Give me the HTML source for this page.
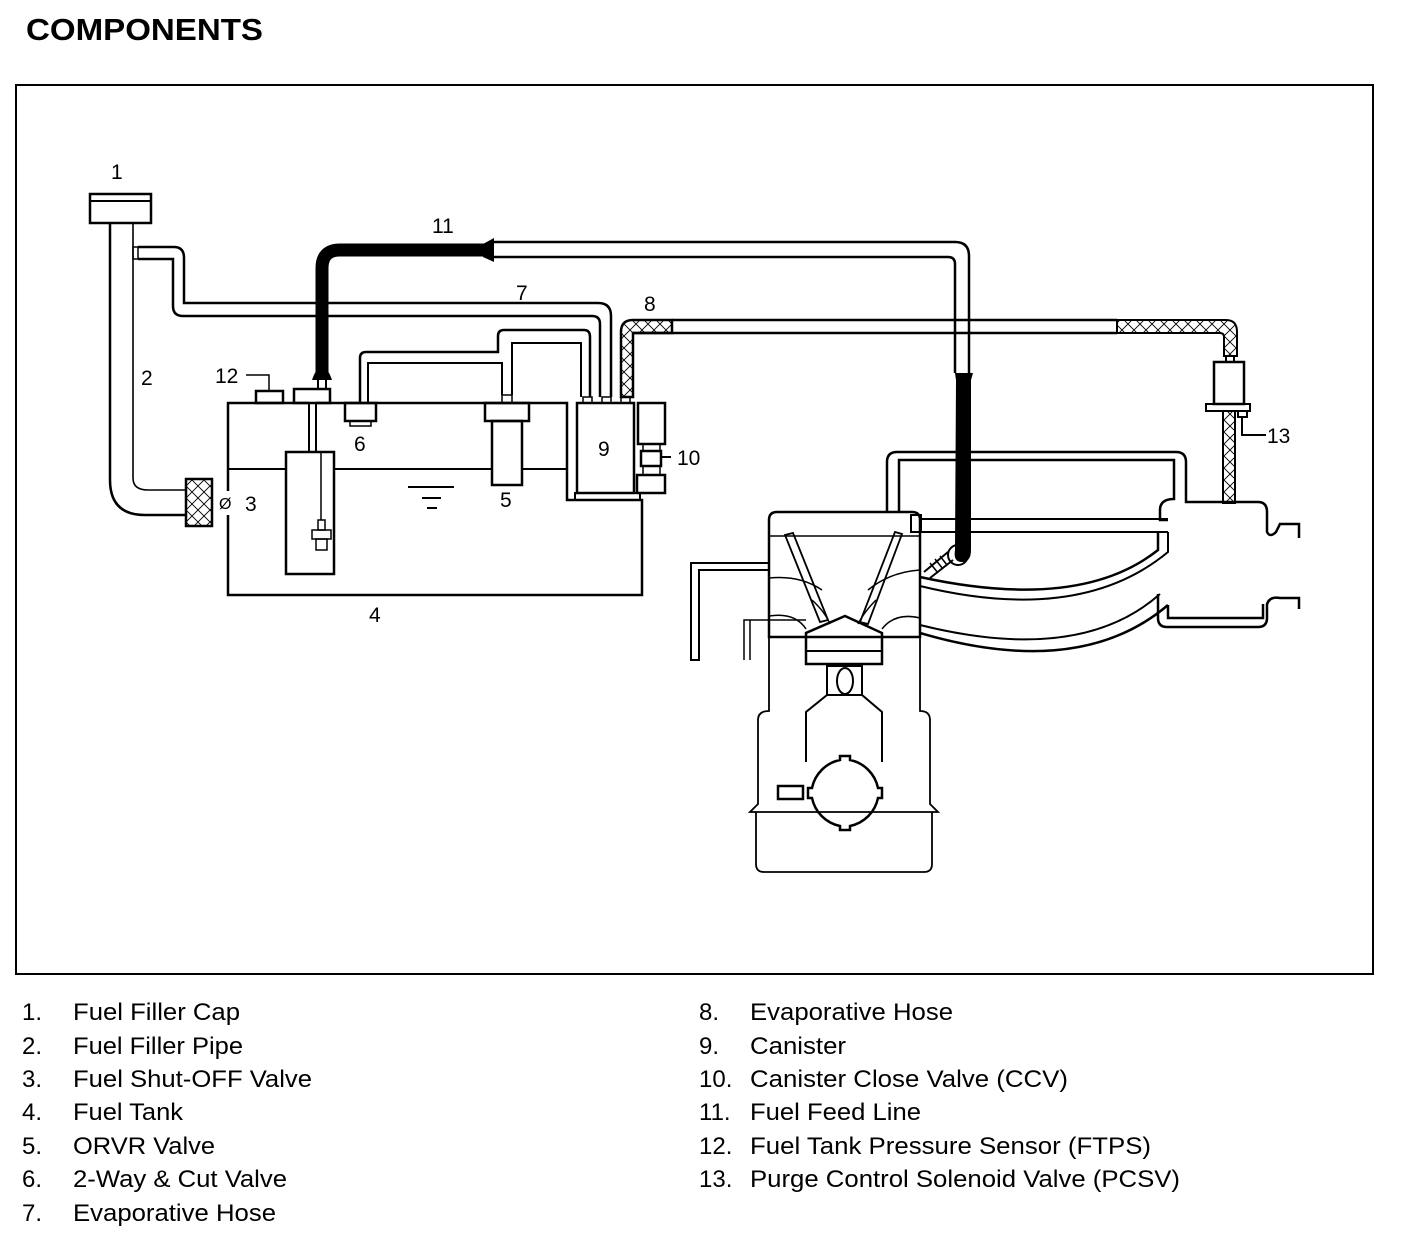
<!DOCTYPE html>
<html><head><meta charset="utf-8"><style>
html,body{margin:0;padding:0;background:#fff;}
svg{display:block;}
text{font-family:"Liberation Sans",Arial,sans-serif;fill:#000;}
</style></head><body>
<svg width="1408" height="1234" viewBox="0 0 1408 1234" xmlns="http://www.w3.org/2000/svg">
<defs>
<pattern id="hx" width="12" height="12" patternUnits="userSpaceOnUse">
<rect width="12" height="12" fill="#fff"/>
<path d="M0,0L12,12M12,0L0,12" stroke="#000" stroke-width="0.9"/>
</pattern>
</defs>
<text x="26" y="40" font-size="31" font-weight="bold" textLength="237" lengthAdjust="spacingAndGlyphs">COMPONENTS</text>
<rect x="16" y="85" width="1357" height="889" fill="none" stroke="#000" stroke-width="2"/>

<g fill="none" stroke="#000" stroke-width="2.5">
<rect x="90" y="194" width="61" height="29"/>
<line x1="90" y1="201" x2="151" y2="201" stroke-width="2"/>
<path d="M110,223 V480 Q110,515 145,515 H186"/>
<path d="M133,223 V478 Q133,490 148,490 H186" stroke-width="1.6"/>
<rect x="186" y="479" width="26" height="47" fill="url(#hx)"/>
<rect x="133" y="247" width="5" height="12" stroke-width="1.5"/>
<path d="M138,247 H174 Q184,247 184,258 V303 H598 Q611,303 611,316 V397"/>
<path d="M138,259 H173 V306 Q173,316 183,316 H592 Q600,316 600,324 V397"/>
<path d="M228,491 V403 H309 M316,403 H567 V500 H642 V595 H228 V515"/>
<path d="M228,469 H286 M334,469 H492 M522,469 H567" stroke-width="2"/>
<path d="M408,487 H454 M422,498 H441 M427,508 H437" stroke-width="2"/>
<rect x="575" y="493" width="65" height="7" stroke-width="2"/>
<rect x="294" y="389" width="36" height="14"/>
<path d="M309,403 V452 M316,403 V452" stroke-width="2"/>
<rect x="286" y="452" width="48" height="122"/>
<line x1="321" y1="452" x2="321" y2="520" stroke-width="1.5"/>
<rect x="318" y="520" width="7" height="10" stroke-width="1.5"/>
<rect x="312" y="530" width="19" height="9" stroke-width="1.5"/>
<rect x="316" y="539" width="11" height="11" stroke-width="1.5"/>
<rect x="256" y="391" width="27" height="12"/>
<path d="M246,375 H269 V391" stroke-width="1.5"/>
<rect x="345" y="403" width="31" height="18"/>
<rect x="350" y="421" width="21" height="5" stroke-width="1.5"/>
<rect x="485" y="403" width="44" height="18"/>
<rect x="492" y="421" width="30" height="64"/>
<rect x="502" y="395" width="10" height="8" stroke-width="1.5"/>
<path d="M360,403 V358 Q360,352 366,352 H498 V336 Q498,330 504,330 H584 Q590,330 590,337 V397"/>
<path d="M368,403 V363 H502 V395" stroke-width="2"/>
<path d="M512,395 V343 H581 V397" stroke-width="2"/>
<rect x="577" y="403" width="57" height="90"/>
<rect x="583" y="397" width="9" height="6" stroke-width="1.5"/>
<rect x="602" y="397" width="9" height="6" stroke-width="1.5"/>
<rect x="621" y="397" width="9" height="6" stroke-width="1.5"/>
<rect x="638" y="403" width="27" height="41"/>
<rect x="643" y="444" width="17" height="7" stroke-width="1.5"/>
<rect x="641" y="451" width="20" height="15"/>
<rect x="643" y="466" width="17" height="9" stroke-width="1.5"/>
<rect x="637" y="475" width="28" height="18"/>
<line x1="661" y1="457" x2="671" y2="457" stroke-width="2"/>
</g>

<path d="M621,397 V332 Q621,320 633,320 H672 V333 H633 V397 Z" fill="url(#hx)" stroke="#000" stroke-width="2.5"/>
<path d="M672,320 H1117 M633,333 H1117" stroke="#000" stroke-width="2.5" fill="none"/>
<path d="M1117,320 H1226 Q1237,320 1237,332 V356 H1224 V337 Q1224,333 1220,333 H1117 Z" fill="url(#hx)" stroke="#000" stroke-width="2"/>
<g fill="none" stroke="#000" stroke-width="2">
<rect x="1226" y="356" width="8" height="6"/>
<rect x="1214" y="362" width="30" height="42" stroke-width="2.5"/>
<rect x="1206" y="404" width="44" height="7"/>
<rect x="1238" y="411" width="9" height="6"/>
<path d="M1242,417 V435 H1266"/>
</g>
<rect x="1223" y="411" width="12" height="92" fill="url(#hx)" stroke="#000" stroke-width="2"/>

<path d="M322,378 V268 Q322,250 340,250 H488" fill="none" stroke="#000" stroke-width="13"/>
<path d="M483,244 L494,238 L494,262 L483,257 Z" fill="#000"/>
<path d="M312,380 Q316,368 322,366 Q328,368 332,380 Z" fill="#000"/>
<path d="M318,380 V390 M326,380 V390" stroke="#000" stroke-width="2"/>
<path d="M494,242 H955 Q969,242 969,256 V373 M494,257 H948 Q955,257 955,264 V373" fill="none" stroke="#000" stroke-width="2.5"/>
<path d="M955,373 H973 L971,380 V550 Q971,562 962,562 Q953,562 955,550 L956,380 Z" fill="#000"/>

<g fill="none" stroke="#000" stroke-width="2.5">
<path d="M887,512 V462 Q887,452 897,452 H1176 Q1186,452 1186,462 V502 H1258 Q1267,502 1267,512 V532 Q1270,538 1276,532 L1280,524 H1299 V538"/>
<path d="M899,512 V460 H1174 V499 Q1160,499 1160,510 V520 H1168"/>
<path d="M920,519 H1168 M920,532 H1168" stroke-width="2"/>
<path d="M1158,532 V550 Q1080,612 920,577"/>
<path d="M1168,532 V552 Q1080,625 920,586" stroke-width="2"/>
<path d="M920,625 Q1080,665 1160,594" stroke-width="2"/>
<path d="M920,633 Q1080,680 1168,605" />
<path d="M1158,594 V618 Q1158,627 1167,627 H1258 Q1267,627 1267,618 V604 Q1270,596 1280,598 H1299 V609"/>
<path d="M1168,605 V618 H1263 V604"/>
<path d="M769,637 V520 Q769,512 777,512 H912 Q920,512 920,520 V637 Z"/>
<line x1="769" y1="536" x2="920" y2="536" stroke-width="1.5"/>
<rect x="911" y="515" width="10" height="17" stroke-width="2"/>
<path d="M769,563 H691 V660 H699 V570 H769" stroke-width="2"/>
<path d="M744,660 V620 H750 V660 M750,620 H806" stroke-width="1.5"/>
<path d="M769,578 Q800,575 822,590 M920,570 Q890,572 868,590" stroke-width="1.5"/>
<path d="M769,616 Q795,612 806,629 M920,618 Q895,612 882,629" stroke-width="1.5"/>
<path d="M785,535 L820,622 L828,620 L793,533 Z" stroke-width="1.8"/>
<path d="M895,532 L860,622 L868,624 L902,534 Z" stroke-width="1.8"/>
<path d="M812,600 Q825,612 830,624 M876,600 Q864,612 858,624" stroke-width="1.5"/>
<path d="M806,664 V633 L845,616 L882,633 V664 Z"/>
<line x1="806" y1="651" x2="882" y2="651" stroke-width="2"/>
<rect x="827" y="666" width="35" height="29" stroke-width="2"/>
<ellipse cx="845" cy="681" rx="8" ry="13" stroke-width="2"/>
<path d="M827,695 L806,712 V762 M862,695 L882,712 V762" stroke-width="2"/>
<path d="M769,637 V711 Q758,711 758,720 V804 L750,812 H938 L930,804 V720 Q930,711 920,711 V637" stroke-width="1.8"/>
<path d="M756,812 V864 Q756,872 764,872 H924 Q932,872 932,864 V812" stroke-width="1.8"/>
<rect x="778" y="786" width="25" height="13"/>
<path d="M840,756 H850 V760 A36,36 0 0 1 878,788 H882 V798 H878 A36,36 0 0 1 850,826 V830 H840 V826 A36,36 0 0 1 812,798 H808 V788 H812 A36,36 0 0 1 840,760 Z" stroke-width="2.5"/>
<path d="M924,572 L948,552 M930,578 L953,560" stroke-width="2"/>
<path d="M930,563 L938,573 M935,559 L943,569 M940,556 L947,565" stroke-width="1.5"/>
<circle cx="958" cy="555" r="10" stroke-width="2"/>
</g>

<g font-size="21">
<text x="111" y="179">1</text>
<text x="141" y="385">2</text>
<text x="245" y="511">3</text>
<text x="369" y="622">4</text>
<text x="500" y="507">5</text>
<text x="354" y="451">6</text>
<text x="516" y="300">7</text>
<text x="644" y="311">8</text>
<text x="598" y="456">9</text>
<text x="677" y="465">10</text>
<text x="432" y="233">11</text>
<text x="215" y="383">12</text>
<text x="1267" y="443">13</text>
</g>
<text x="219" y="509" font-size="16">Ø</text>

<g font-size="24">
<text x="22" y="1020">1.</text><text x="73" y="1020" textLength="167" lengthAdjust="spacingAndGlyphs">Fuel Filler Cap</text>
<text x="22" y="1054">2.</text><text x="73" y="1054" textLength="170" lengthAdjust="spacingAndGlyphs">Fuel Filler Pipe</text>
<text x="22" y="1087">3.</text><text x="73" y="1087" textLength="239" lengthAdjust="spacingAndGlyphs">Fuel Shut-OFF Valve</text>
<text x="22" y="1120">4.</text><text x="73" y="1120" textLength="110" lengthAdjust="spacingAndGlyphs">Fuel Tank</text>
<text x="22" y="1154">5.</text><text x="73" y="1154" textLength="142" lengthAdjust="spacingAndGlyphs">ORVR Valve</text>
<text x="22" y="1187">6.</text><text x="73" y="1187" textLength="214" lengthAdjust="spacingAndGlyphs">2-Way &amp; Cut Valve</text>
<text x="22" y="1221">7.</text><text x="73" y="1221" textLength="203" lengthAdjust="spacingAndGlyphs">Evaporative Hose</text>
<text x="699" y="1020">8.</text><text x="750" y="1020" textLength="203" lengthAdjust="spacingAndGlyphs">Evaporative Hose</text>
<text x="699" y="1054">9.</text><text x="750" y="1054" textLength="96" lengthAdjust="spacingAndGlyphs">Canister</text>
<text x="699" y="1087">10.</text><text x="750" y="1087" textLength="318" lengthAdjust="spacingAndGlyphs">Canister Close Valve (CCV)</text>
<text x="699" y="1120">11.</text><text x="750" y="1120" textLength="171" lengthAdjust="spacingAndGlyphs">Fuel Feed Line</text>
<text x="699" y="1154">12.</text><text x="750" y="1154" textLength="401" lengthAdjust="spacingAndGlyphs">Fuel Tank Pressure Sensor (FTPS)</text>
<text x="699" y="1187">13.</text><text x="750" y="1187" textLength="430" lengthAdjust="spacingAndGlyphs">Purge Control Solenoid Valve (PCSV)</text>
</g>
</svg>
</body></html>
